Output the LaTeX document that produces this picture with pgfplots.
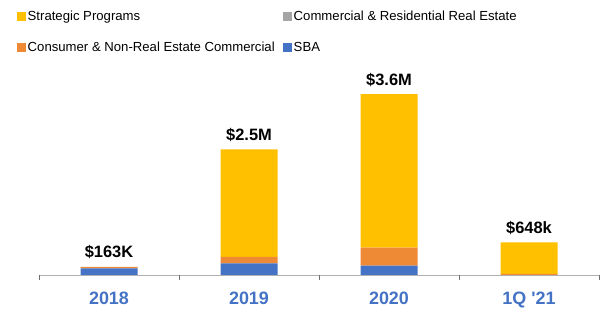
\documentclass[border=0pt]{standalone}
\usepackage{pgfplots}
\pgfplotsset{compat=1.18}
\usepackage{fontspec}
\setmainfont{Liberation Sans}
\definecolor{cYel}{HTML}{FFC000}
\definecolor{cOra}{HTML}{EE8A35}
\definecolor{cGra}{HTML}{A5A5A5}
\definecolor{cBlu}{HTML}{4472C4}
\definecolor{cTxt}{HTML}{4472C4}
\definecolor{lineGray}{HTML}{B0B0B0}
\definecolor{tickGray}{HTML}{707070}
\pgfplotsset{mylegend/.style={legend image code/.code={\fill[##1] (0bp,-4.5bp) rectangle (9bp,4.5bp);}}}
\begin{document}
\begin{tikzpicture}
\useasboundingbox (0,0) rectangle (602bp,311bp);
\begin{axis}[
  at={(39bp,36bp)}, anchor=south west,
  scale only axis, width=560bp, height=201bp,
  xmin=-0.5, xmax=3.5, ymin=0, ymax=4,
  axis x line*=bottom, axis y line=none,
  x axis line style={draw=lineGray, line width=0.8pt},
  xtick={0,1,2,3}, xticklabels={2018,2019,2020,{1Q \textquotesingle21}},
  major tick length=0pt,
  extra x ticks={-0.5,0.5,1.5,2.5,3.5}, extra x tick labels={},
  extra x tick style={major tick length=5bp, tick align=outside, tick style={draw=tickGray, line width=0.6pt}},
  xticklabel style={font=\bfseries\fontsize{18}{18}\selectfont, text=cTxt, anchor=base, yshift=-29bp},
  ytick=\empty,
  ybar stacked, bar width=57bp,
  legend columns=2,
  legend cell align=left,
  legend style={at={(-0.0446,1.328)}, anchor=north west, draw=none, fill=none,
    font=\fontsize{13.2}{14}\selectfont,
    nodes={inner xsep=1.5bp, inner ysep=0pt, text height=10bp, text depth=3bp},
    row sep=18bp,
    /tikz/every even column/.append style={column sep=7bp}},
]
\addlegendimage{fill=cYel, draw=none, mylegend}
\addlegendentry{Strategic Programs}
\addlegendimage{fill=cGra, draw=none, mylegend}
\addlegendentry{Commercial \& Residential Real Estate}
\addlegendimage{fill=cOra, draw=none, mylegend}
\addlegendentry{Consumer \& Non-Real Estate Commercial}
\addlegendimage{fill=cBlu, draw=none, mylegend}
\addlegendentry{SBA}
\addplot[fill=cBlu, draw=none, forget plot] coordinates {(0,0.13) (1,0.23) (2,0.185) (3,0)};
\addplot[fill=cOra, draw=none, forget plot] coordinates {(0,0.033) (1,0.13) (2,0.36) (3,0.02)};
\addplot[fill=cGra, draw=none, forget plot] coordinates {(0,0) (1,0) (2,0) (3,0)};
\addplot[fill=cYel, draw=none, forget plot] coordinates {(0,0) (1,2.14) (2,3.055) (3,0.628)};
\end{axis}
\begin{axis}[
  at={(39bp,36bp)}, anchor=south west,
  scale only axis, width=560bp, height=201bp,
  xmin=-0.5, xmax=3.5, ymin=0, ymax=4,
  hide axis, clip=false,
]
\addplot[draw=none, mark=none, nodes near coords, point meta=explicit symbolic,
  nodes near coords style={anchor=base, yshift=9bp, text=black, font=\bfseries\fontsize{16.5}{16.5}\selectfont}]
  coordinates {(0,0.163)[\$163K] (1,2.5)[\$2.5M] (2,3.6)[\$3.6M] (3,0.648)[\$648k]};
\end{axis}
\end{tikzpicture}
\end{document}
